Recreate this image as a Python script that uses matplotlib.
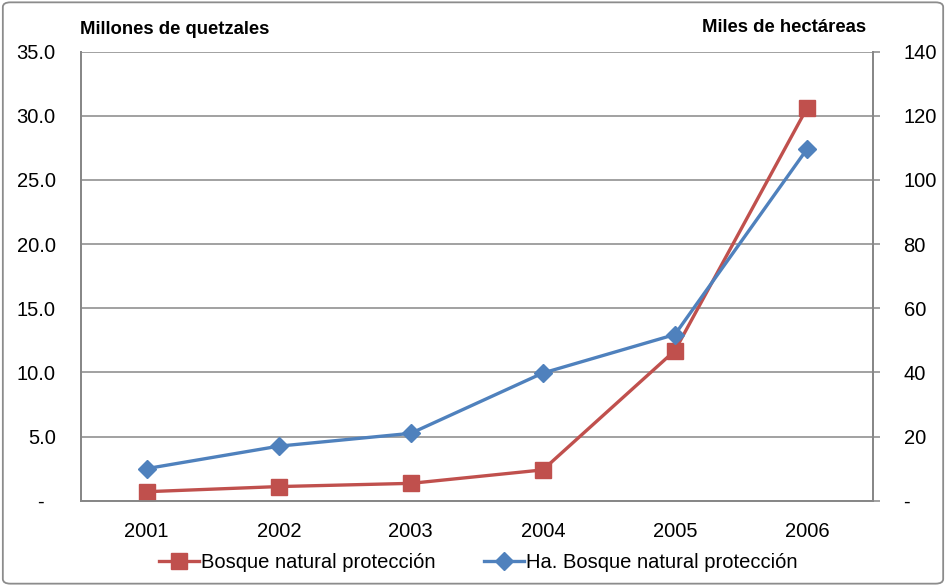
import matplotlib
matplotlib.use("Agg")
import matplotlib.pyplot as plt
from matplotlib.patches import FancyBboxPatch
from matplotlib.ticker import FuncFormatter

plt.rcParams['font.family'] = ['Liberation Sans', 'DejaVu Sans']

# Series data
years = ['2001', '2002', '2003', '2004', '2005', '2006']
quetzales = [0.7, 1.1, 1.35, 2.4, 11.7, 30.6]        # millones de quetzales
hectareas = [10.0, 17.0, 21.0, 39.8, 51.8, 109.6]    # miles de hectareas

RED = '#C0504D'
BLUE = '#4F81BD'
GRID = '#878787'

fig = plt.figure(figsize=(9.46, 5.86), dpi=100)
ax = fig.add_axes([0.0853, 0.1456, 0.8375, 0.7662])
ax2 = ax.twinx()

x = list(range(len(years)))

line_q, = ax.plot(x, quetzales, color=RED, lw=2.4, marker='s', ms=11.5,
                  zorder=3, label='Bosque natural protección')
line_h, = ax2.plot(x, hectareas, color=BLUE, lw=2.4, marker='D', ms=9.5,
                   zorder=3, label='Ha. Bosque natural protección')

ax.set_xlim(-0.5, len(years) - 0.5)
ax.set_ylim(0, 35)
ax2.set_ylim(0, 140)
ax.set_yticks([0, 5, 10, 15, 20, 25, 30, 35])
ax2.set_yticks([0, 20, 40, 60, 80, 100, 120, 140])
ax.set_xticks(x)
ax.set_xticklabels(years)

# zero shows as a dash, accounting style
ax.yaxis.set_major_formatter(FuncFormatter(lambda v, p: '-  ' if v == 0 else f'{v:.1f}'))
ax2.yaxis.set_major_formatter(FuncFormatter(lambda v, p: '-' if v == 0 else f'{v:.0f}'))

ax.grid(axis='y', color=GRID, lw=1.1)
ax.set_axisbelow(True)

for a in (ax, ax2):
    for s in a.spines.values():
        s.set_color(GRID)
        s.set_linewidth(1.3)
    a.spines['top'].set_visible(False)

ax.tick_params(axis='y', length=0, pad=18, labelsize=14.5)
ax.tick_params(axis='x', length=0, pad=15, labelsize=14.5)
ax2.tick_params(axis='y', length=5, color=GRID, width=1.1, pad=17, labelsize=14.5)

# Axis titles
fig.text(80 / 946, 1 - 30 / 586, 'Millones de quetzales', fontsize=13.3,
         fontweight='bold', ha='left', va='center')
fig.text(866 / 946, 1 - 28 / 586, 'Miles de hectáreas', fontsize=13.3,
         fontweight='bold', ha='right', va='center')

fig.legend(handles=[line_q, line_h], loc='center', ncol=2,
           bbox_to_anchor=(478 / 946, 1 - 563 / 586), frameon=False,
           fontsize=14.5, handlelength=2.0, handletextpad=0.1,
           columnspacing=2.4, markerscale=0.95)

# Outer chart border
border = FancyBboxPatch((0.003, 0.004), 0.994, 0.992,
                        boxstyle='round,pad=0,rounding_size=0.008',
                        transform=fig.transFigure, fill=False,
                        edgecolor='#8C8C8C', lw=1.3)
fig.patches.append(border)

fig.savefig('out.png', dpi=100)
